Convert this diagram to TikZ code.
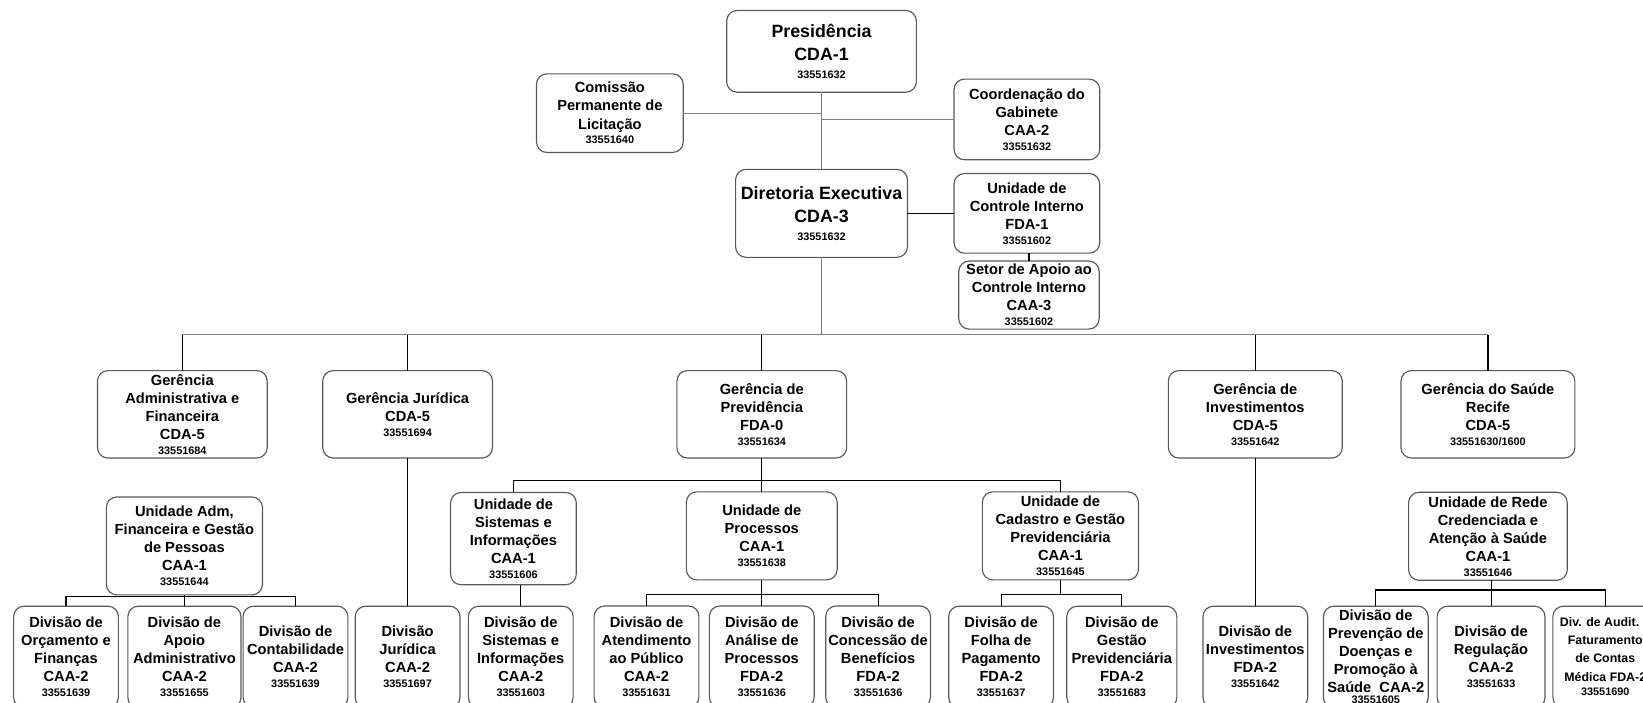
\documentclass[tikz,border=0pt]{standalone}
\usepackage{fontspec}
\setmainfont{Liberation Sans}
\usetikzlibrary{positioning}

\newcommand{\cod}[2][-1.5pt]{\\[#1]{\fontsize{5.2}{6}\selectfont #2}}

\begin{document}
\begin{tikzpicture}
[x=0.5pt,y=-0.5pt,
 every node/.style={draw=black!65,rounded corners=5pt,align=center,inner sep=0pt,outer sep=0pt,font=\fontsize{7}{8.6}\selectfont\bfseries},
 chief/.style={font=\fontsize{8.5}{11}\selectfont\bfseries},
 staff/.style={minimum width=69.5pt,minimum height=38pt},
 gerencia/.style={minimum width=81pt,minimum height=41.7pt},
 unidade/.style={minimum width=74.5pt,minimum height=42pt},
 divisao/.style={minimum width=50pt,minimum height=48.5pt},
 bus/.style={draw=black!50},
 line width=0.55pt]
\path[use as bounding box,clip] (0,0) rectangle (1568,670);
\fill[white] (0,0) rectangle (1568,670);
\node[chief,minimum width=90.5pt,minimum height=39pt] (pres) at (784,49) {Presidência\\CDA-1\cod[-2.5pt]{33551632}};
\node[chief,minimum width=82pt,minimum height=42pt] (dir) [on grid,below=77.3pt of pres] {Diretoria Executiva\\CDA-3\cod[-2.5pt]{33551632}};
\node[staff,minimum width=70pt,minimum height=37.5pt] (com) [on grid,below left=29.5pt and 101pt of pres] {Comissão\\Permanente de\\Licitação\cod{33551640}};
\node[staff,minimum height=38.5pt] (coord) [on grid,below right=32.5pt and 98pt of pres] {Coordenação do\\Gabinete\\CAA-2\cod{33551632}};
\node[staff] (uci) [on grid,right=98pt of dir] {Unidade de\\Controle Interno\\FDA-1\cod{33551602}};
\node[staff,minimum width=67pt,minimum height=32.5pt] (setor) [on grid,below right=39pt and 1pt of uci] {Setor de Apoio ao\\Controle Interno\\CAA-3\cod{33551602}};
\node[gerencia] (gadm) [on grid,below left=95.9pt and 305pt of dir] {Gerência\\Administrativa e\\Financeira\\CDA-5\cod{33551684}};
\node[gerencia] (gjur) [on grid,below left=95.9pt and 197.5pt of dir] {Gerência Jurídica\\CDA-5\cod{33551694}};
\node[gerencia] (gprev) [on grid,below left=95.9pt and 28.5pt of dir] {Gerência de\\Previdência\\FDA-0\cod{33551634}};
\node[gerencia,minimum width=83pt] (ginv) [on grid,below right=95.9pt and 207pt of dir] {Gerência de\\Investimentos\\CDA-5\cod{33551642}};
\node[gerencia,minimum width=83pt] (gsaude) [on grid,below right=95.9pt and 318pt of dir] {Gerência do Saúde\\Recife\\CDA-5\cod{33551630/1600}};
\node[unidade,minimum height=46.7pt] (uadm) [on grid,below right=62.8pt and 1pt of gadm] {Unidade Adm,\\Financeira e Gestão\\de Pessoas\\CAA-1\cod{33551644}};
\node[unidade,minimum width=60pt,minimum height=44pt] (usis) [on grid,below left=59.3pt and 118.5pt of gprev] {Unidade de\\Sistemas e\\Informações\\CAA-1\cod{33551606}};
\node[unidade,minimum width=72pt] (uproc) [on grid,below=58pt of gprev] {Unidade de\\Processos\\CAA-1\cod{33551638}};
\node[unidade] (ucad) [on grid,below right=58pt and 142.5pt of gprev] {Unidade de\\Cadastro e Gestão\\Previdenciária\\CAA-1\cod{33551645}};
\node[unidade,minimum width=75.7pt] (urede) [on grid,below=58.2pt of gsaude] {Unidade de Rede\\Credenciada e\\Atenção à Saúde\\CAA-1\cod{33551646}};
\node[divisao] (dorc) [on grid,below left=53pt and 56.5pt of uadm] {Divisão de\\Orçamento e\\Finanças\\CAA-2\cod{33551639}};
\node[divisao,minimum width=54pt] (dapoio) [on grid,below=53pt of uadm] {Divisão de\\Apoio\\Administrativo\\CAA-2\cod{33551655}};
\node[divisao] (dcont) [on grid,below right=53pt and 53pt of uadm] {Divisão de\\Contabilidade\\CAA-2\cod{33551639}};
\node[divisao] (djur) [on grid,below=115.8pt of gjur] {Divisão\\Jurídica\\CAA-2\cod{33551697}};
\node[divisao] (dsis) [on grid,below right=56.5pt and 3.5pt of usis] {Divisão de\\Sistemas e\\Informações\\CAA-2\cod{33551603}};
\node[divisao] (datend) [on grid,below left=57.7pt and 55pt of uproc] {Divisão de\\Atendimento\\ao Público\\CAA-2\cod{33551631}};
\node[divisao] (danal) [on grid,below=57.7pt of uproc] {Divisão de\\Análise de\\Processos\\FDA-2\cod{33551636}};
\node[divisao] (dconc) [on grid,below right=57.7pt and 55.5pt of uproc] {Divisão de\\Concessão de\\Benefícios\\FDA-2\cod{33551636}};
\node[divisao] (dfolha) [on grid,below left=57.8pt and 28.3pt of ucad] {Divisão de\\Folha de\\Pagamento\\FDA-2\cod{33551637}};
\node[divisao,minimum width=52.5pt] (dgest) [on grid,below right=57.8pt and 29.3pt of ucad] {Divisão de\\Gestão\\Previdenciária\\FDA-2\cod{33551683}};
\node[divisao] (dinv) [on grid,below=115.8pt of ginv] {Divisão de\\Investimentos\\FDA-2\cod{33551642}};
\node[divisao] (dprev) [on grid,below left=57.6pt and 53.5pt of urede] {Divisão de\\Prevenção de\\Doenças e\\Promoção à\\Saúde~~CAA-2\cod[-3.5pt]{33551605}};
\node[divisao,minimum width=51.5pt] (dreg) [on grid,below right=57.6pt and 1.5pt of urede] {Divisão de\\Regulação\\CAA-2\cod{33551633}};
\node[divisao,font=\fontsize{5.9}{8.6}\selectfont\bfseries] (daud) [on grid,below right=57.6pt and 56pt of urede] {Div. de Audit. e\\Faturamento\\de Contas\\Médica FDA-2\cod{33551690}};
\path[bus] (pres) edge (dir);
\draw[bus] (com.east) -- (com.east -| pres.south);
\draw[bus] (coord.west) -- (coord.west -| pres.south);
\path (dir) edge (uci);
\path (setor.north) edge (setor.north |- uci.south);
\draw[bus] (dir.south) -- ++(0,-37pt) coordinate (mbus);
\draw[bus] (mbus -| gadm.north) -- (mbus -| gsaude.north);
\foreach \g in {gadm,gjur,gprev,ginv,gsaude}
  \path (\g.north) edge (\g.north |- mbus);
\draw (usis.north) -- ++(0,5.65pt) -| (ucad.north);
\path (gprev) edge (uproc);
\draw (dorc.north) -- ++(0,4.7pt) -| (dcont.north);
\path (uadm) edge (dapoio);
\draw (datend.north) -- ++(0,5.6pt) -| (dconc.north);
\path (uproc) edge (danal);
\draw (dfolha.north) -- ++(0,5.7pt) coordinate (cbus) -| (dgest.north);
\path (ucad.south) edge (ucad.south |- cbus);
\draw (dprev.north) -- ++(0,7.7pt) -| (daud.north);
\path (dreg.north) edge (dreg.north |- urede.south);
\path (gjur) edge (djur);
\path (ginv) edge (dinv);
\path (dsis.north) edge (dsis.north |- usis.south);
\end{tikzpicture}
\end{document}
